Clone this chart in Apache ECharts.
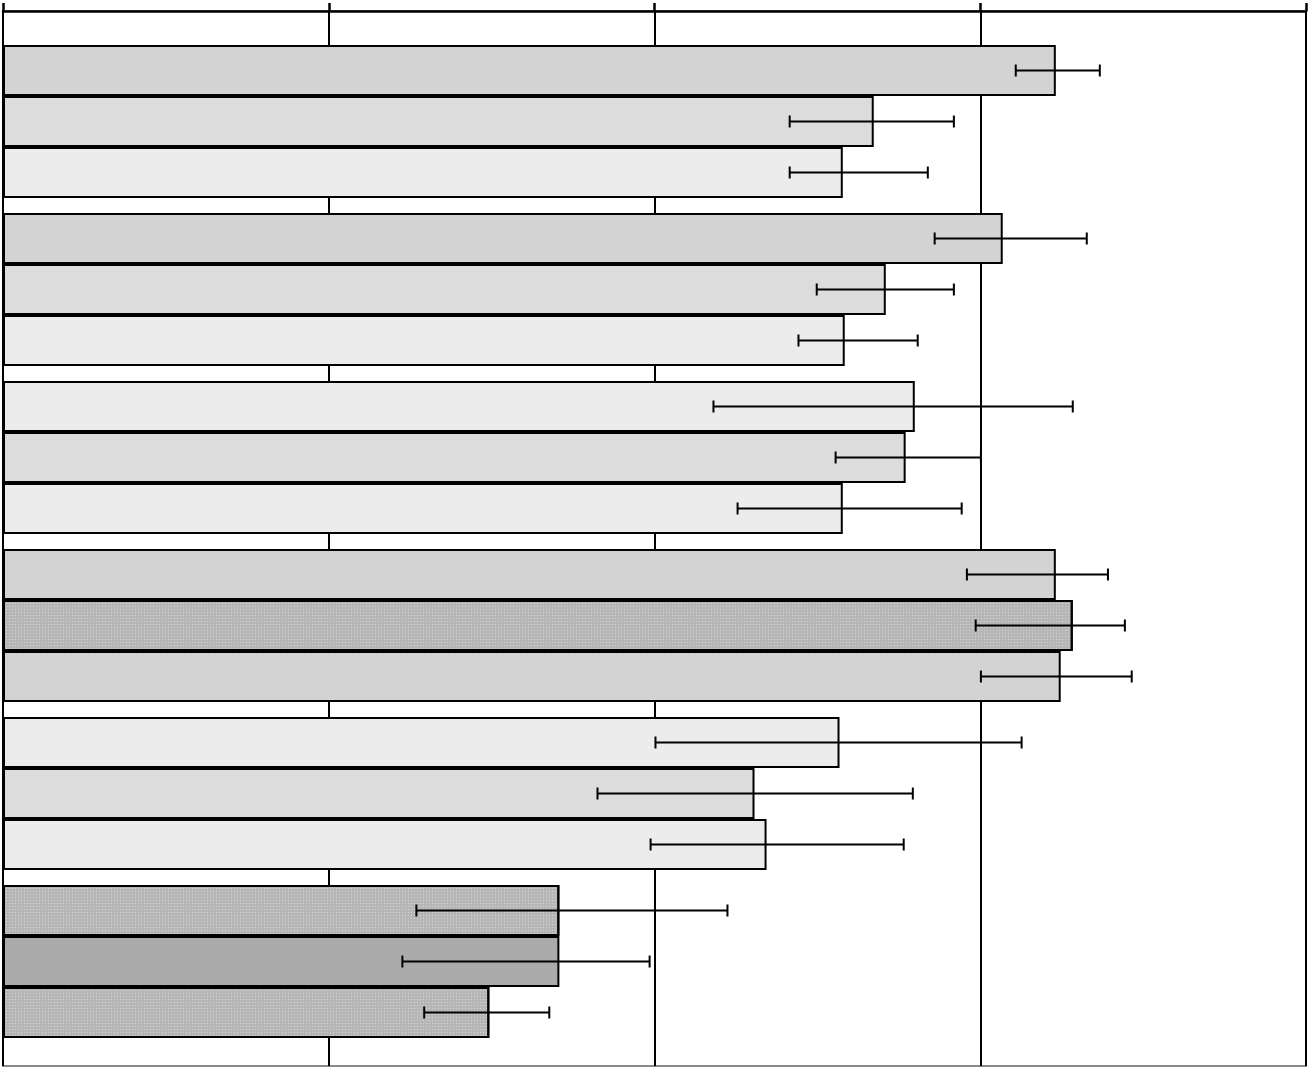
<!DOCTYPE html>
<html>
<head>
<meta charset="utf-8">
<script src="https://cdn.jsdelivr.net/npm/echarts@6/dist/echarts.min.js"></script>
<style>html,body{margin:0;padding:0;background:#fff;}#c{width:1310px;height:1070px;}</style>
</head>
<body>
<div id="c"></div>
<script>
// Data (value scale 0..4)
const categories = ['G1', 'G2', 'G3', 'G4', 'G5', 'G6'];
const seriesA = [3.232, 3.069, 2.799, 3.232, 2.568, 1.708];
const seriesB = [2.673, 2.710, 2.771, 3.284, 2.307, 1.708];
const seriesC = [2.578, 2.584, 2.578, 3.247, 2.344, 1.493];
const errLowA = [3.109, 2.860, 2.181, 2.959, 2.003, 1.269];
const errHighA = [3.367, 3.327, 3.284, 3.392, 3.127, 2.224];
const errLowB = [2.415, 2.498, 2.556, 2.986, 1.825, 1.226];
const errHighB = [2.919, 2.919, 3.002, 3.444, 2.793, 1.985];
const errLowC = [2.415, 2.442, 2.255, 3.002, 1.988, 1.293];
const errHighC = [2.839, 2.808, 2.943, 3.465, 2.765, 1.677];
const xTicks = [0, 1, 2, 3, 4];

// Styles (fill kind per bar)
const fillA = ['mid', 'mid', 'light', 'mid', 'light', 'dot'];
const fillB = ['pale', 'pale', 'pale', 'dot', 'pale', 'dark'];
const fillC = ['light', 'light', 'light', 'mid', 'light', 'dot'];

const fillStyles = {
  light: { color: '#ececec' },
  pale: { color: '#dcdcdc' },
  mid: { color: '#d3d3d3' },
  dark: { color: '#ababab' },
  dot: { color: '#b6b6b6', decal: { symbol: 'rect', symbolSize: 1, dashArrayX: [[1, 2]], dashArrayY: [1, 2], color: '#d4d4d4', rotation: 0 } }
};

function barData(vals, fills) {
  return vals.map((v, i) => {
    const f = fillStyles[fills[i]];
    const st = { color: f.color, borderColor: '#000', borderWidth: 2 };
    if (f.decal) st.decal = f.decal;
    return { value: v, itemStyle: st };
  });
}

const BAR_W = 51;
function errData(lo, hi) { return lo.map((l, i) => [i, l, hi[i]]); }
function errRender(offsetIdx) {
  return function (params, api) {
    const cat = api.value(0);
    const p1 = api.coord([api.value(1), cat]);
    const p2 = api.coord([api.value(2), cat]);
    const y = p1[1] + (offsetIdx - 1) * BAR_W;
    const h = 6;
    const st = { stroke: '#000', lineWidth: 2 };
    return {
      type: 'group',
      children: [
        { type: 'line', shape: { x1: p1[0], y1: y, x2: p2[0], y2: y }, style: st },
        { type: 'line', shape: { x1: p1[0], y1: y - h, x2: p1[0], y2: y + h }, style: st },
        { type: 'line', shape: { x1: p2[0], y1: y - h, x2: p2[0], y2: y + h }, style: st }
      ]
    };
  };
}

const chart = echarts.init(document.getElementById('c'), null, { renderer: 'canvas' });
chart.setOption({
  backgroundColor: '#fff',
  animation: false,
  grid: [
    { left: 3, right: 4, top: 11, bottom: 4, show: true, borderColor: '#8a8a8a', borderWidth: 2, backgroundColor: 'transparent' },
    { left: 3, right: 4, top: 37.5, height: 1008 }
  ],
  xAxis: [
    { gridIndex: 0, type: 'value', position: 'top', min: xTicks[0], max: xTicks[xTicks.length - 1], interval: 1,
      axisLine: { show: true, onZero: false, lineStyle: { color: '#000', width: 2.5 } },
      axisTick: { show: true, inside: false, length: 8, lineStyle: { color: '#000', width: 2.5 } },
      splitLine: { show: true, lineStyle: { color: '#000', width: 2 } },
      axisLabel: { show: false } },
    { gridIndex: 1, type: 'value', min: xTicks[0], max: xTicks[xTicks.length - 1], show: false }
  ],
  yAxis: [
    { gridIndex: 0, type: 'value', min: 0, max: 1, show: false },
    { gridIndex: 1, type: 'category', data: categories, inverse: true, show: false }
  ],
  series: [
    { type: 'bar', xAxisIndex: 1, yAxisIndex: 1, barWidth: BAR_W, barGap: '0%', data: barData(seriesA, fillA), z: 2 },
    { type: 'bar', xAxisIndex: 1, yAxisIndex: 1, barWidth: BAR_W, barGap: '0%', data: barData(seriesB, fillB), z: 2 },
    { type: 'bar', xAxisIndex: 1, yAxisIndex: 1, barWidth: BAR_W, barGap: '0%', data: barData(seriesC, fillC), z: 2 },
    { type: 'custom', xAxisIndex: 1, yAxisIndex: 1, renderItem: errRender(0), data: errData(errLowA, errHighA), encode: { x: [1, 2], y: 0 }, z: 5 },
    { type: 'custom', xAxisIndex: 1, yAxisIndex: 1, renderItem: errRender(1), data: errData(errLowB, errHighB), encode: { x: [1, 2], y: 0 }, z: 5 },
    { type: 'custom', xAxisIndex: 1, yAxisIndex: 1, renderItem: errRender(2), data: errData(errLowC, errHighC), encode: { x: [1, 2], y: 0 }, z: 5 }
  ]
});
</script>
</body>
</html>
